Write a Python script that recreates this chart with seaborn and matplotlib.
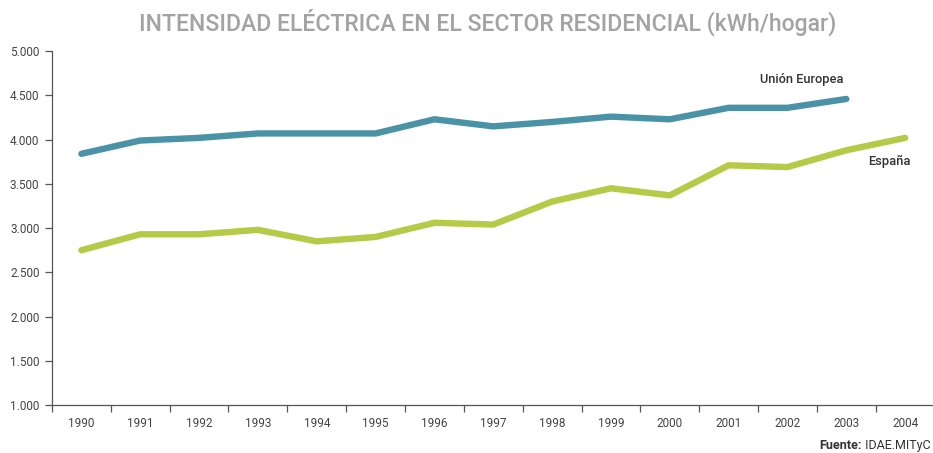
import matplotlib
matplotlib.use("Agg")
import matplotlib.pyplot as plt
import matplotlib.ticker as mticker
import seaborn as sns
import pandas as pd
import numpy as np

years = list(range(1990, 2005))
union_europea = [3840, 3990, 4020, 4070, 4070, 4070, 4230, 4150, 4200, 4260, 4230, 4360, 4360, 4460, np.nan]
espana = [2750, 2930, 2930, 2980, 2850, 2900, 3060, 3040, 3300, 3450, 3370, 3710, 3690, 3880, 4020]
series_names = ["Unión Europea", "España"]
title = "INTENSIDAD ELÉCTRICA EN EL SECTOR RESIDENCIAL (kWh/hogar)"
source_bold = "Fuente:"
source_text = " IDAE.MITyC"

df = pd.DataFrame({
    "year": years * 2,
    "value": union_europea + espana,
    "serie": [series_names[0]] * len(years) + [series_names[1]] * len(years),
})

sns.set_theme(style="white")
plt.rcParams["font.family"] = ["Roboto", "DejaVu Sans"]

fig = plt.figure(figsize=(9.33, 4.53), dpi=100)
ax = fig.add_axes([0.0557, 0.106, 0.946, 0.781])

palette = {"Unión Europea": "#4a93a6", "España": "#b5ca46"}
sns.lineplot(data=df, x="year", y="value", hue="serie", palette=palette,
             linewidth=4.6, solid_capstyle="round", solid_joinstyle="round",
             legend=False, ax=ax)

ax.set_xlim(1989.5, 2004.5)
ax.set_ylim(1000, 5000)
ax.set_xticks(years)
ax.set_xticklabels([str(y) for y in years])
ax.set_xticks([y - 0.5 for y in years] + [2004.5], minor=True)
ax.set_yticks(range(1000, 5001, 500))
ax.yaxis.set_major_formatter(mticker.FuncFormatter(lambda v, p: f"{int(v):,}".replace(",", ".")))

for s in ["top", "right"]:
    ax.spines[s].set_visible(False)
for s in ["left", "bottom"]:
    ax.spines[s].set_color("#555555")
    ax.spines[s].set_linewidth(0.9)

ax.tick_params(axis="x", which="major", length=0, pad=9, labelsize=8.5, labelcolor="#444444")
ax.tick_params(axis="x", which="minor", bottom=True, length=5, width=0.9, color="#555555")
ax.tick_params(axis="y", which="major", left=True, length=5, width=0.9, color="#555555",
               labelsize=8.5, labelcolor="#444444", pad=4)
ax.set_xlabel("")
ax.set_ylabel("")
ax.grid(False)

ax.text(2001.53, 4684, series_names[0], fontsize=9.3, fontweight="medium", color="#333333", ha="left", va="center")
ax.text(2003.74, 3757, series_names[1], fontsize=9.3, fontweight="medium", color="#333333", ha="center", va="center")

fig.text(0.523, 0.951, title, fontsize=16.6, fontweight="medium", color="#a3a3a3", ha="center", va="center")

t2 = fig.text(0.997, 0.0155, source_text, fontsize=9, color="#333333", ha="right", va="center")
fig.canvas.draw()
bb = t2.get_window_extent()
x1 = bb.x0 / fig.bbox.width
fig.text(x1, 0.0155, source_bold, fontsize=9, fontweight="bold", color="#333333", ha="right", va="center")

fig.savefig("out.png", dpi=100)
